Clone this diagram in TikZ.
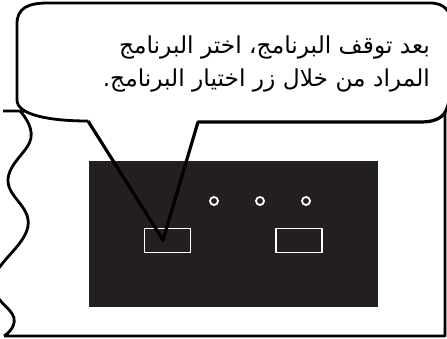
\documentclass[tikz,border=0pt]{standalone}
\usepackage{fontspec}
\newfontfamily\arabicfont[Script=Arabic]{DejaVu Sans}
\TeXXeTstate=1
\definecolor{panel}{HTML}{231F20}
\begin{document}
\begin{tikzpicture}[x=1pt,y=-1pt,
  outline/.style={line width=2.8pt, line join=round},
  whitebox/.style={draw=white, line width=1.8pt, minimum width=46pt, minimum height=24pt, inner sep=0pt},
  whitedot/.style={draw=white, line width=1.8pt, circle, minimum size=8pt, inner sep=0pt},
  arabictext/.style={font=\arabicfont\fontsize{23.3}{28}\selectfont, inner sep=0pt, anchor=base east}]
\useasboundingbox (0,0) rectangle (447,338);
% frame with wavy left edge
\draw[outline] (20,111) -- (3,111)
  (20,111) plot[smooth, tension=0.7] coordinates {(20,111) (31,138) (8,180) (28,226) (-7,281) (14,318) (4,336)}
  (4,336) -- (445,336) -- (445,111) -- (20,111);
% panel
\fill[panel] (89,161) rectangle (378,307);
\node[whitebox] (btnL) at (167.5,240.5) {};
\node[whitebox] (btnR) at (299,240.5) {};
\node[whitedot] (led1) at (214,201) {};
\node[whitedot] (led2) at (260,201) {};
\node[whitedot] (led3) at (306,201) {};
% bubble body
\fill[white] (17,100) -- (17,24) .. controls (17,8) and (28,3) .. (48,3) -- (430,3)
  .. controls (445,3) and (450,12) .. (451,20) -- (451,100) -- (449,100)
  .. controls (447,115) and (440,122) .. (420,122) -- (88,121)
  .. controls (50,121) and (17,115) .. (17,100) -- cycle;
\coordinate (tip) at (163,240);
\draw[outline] (88,121) .. controls (50,121) and (17,115) .. (17,100) -- (17,24)
  .. controls (17,8) and (28,3) .. (48,3) -- (430,3)
  .. controls (445,3) and (450,12) .. (451,20);
\draw[outline, line width=3.2pt] (449,100) .. controls (447,115) and (440,122) .. (420,122) -- (198,122) -- (tip) -- (88,121);
% text
\node[arabictext] (line1) at (430,53) {\beginR بعد توقف البرنامج، اختر البرنامج\endR};
\node[arabictext] (line2) at (430,86) {\beginR المراد من خلال زر اختيار البرنامج.\endR};
\end{tikzpicture}
\end{document}
